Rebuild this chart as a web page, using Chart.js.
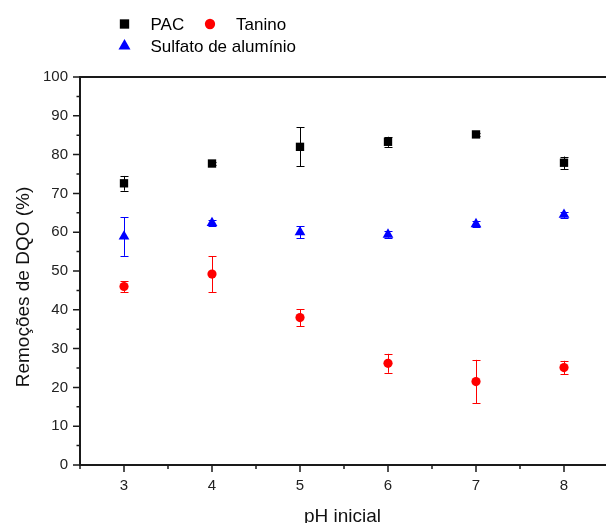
<!DOCTYPE html>
<html>
<head>
<meta charset="utf-8">
<script src="https://cdn.jsdelivr.net/npm/chart.js@4.4.1/dist/chart.umd.min.js"></script>
<style>
    html, body { margin: 0; padding: 0; background: #fff; overflow: hidden; }
    canvas { display: block; }
</style>
</head>
<body>
<canvas id="chart" width="608" height="523"></canvas>
<script>
const phValues = [3, 4, 5, 6, 7, 8];

const pacRemoval = [72.6, 77.7, 82.0, 83.3, 85.2, 77.9];
const pacError = [1.9, 0.3, 5.0, 1.3, 0.3, 1.6];

const taninoRemoval = [46.0, 49.2, 38.0, 26.2, 21.5, 25.1];
const taninoError = [1.4, 4.6, 2.2, 2.45, 5.6, 1.75];

const sulfatoRemoval = [58.9, 62.4, 60.0, 59.4, 62.1, 64.5];
const sulfatoError = [5.0, 0.7, 1.5, 0.8, 0.7, 0.8];

const yTicks = [0, 10, 20, 30, 40, 50, 60, 70, 80, 90, 100];
const xTicks = [3, 4, 5, 6, 7, 8];

const FONT = "'Liberation Sans', Arial, sans-serif";

function toPoints(values) {
    return phValues.map((ph, i) => ({ x: ph, y: values[i] }));
}

function series(label, values, errors, color, pointStyle, radius) {
    return {
        label,
        data: toPoints(values),
        errors,
        pointStyle,
        pointRadius: radius,
        pointHoverRadius: radius,
        pointBackgroundColor: color,
        pointBorderColor: color,
        pointBorderWidth: 0,
        borderColor: color,
        backgroundColor: color,
        showLine: false
    };
}

// error bars, axis ticks, frame top, titles and the two-row legend
const decorPlugin = {
    id: "decor",
    beforeDatasetsDraw(chart) {
        const { ctx, scales: { x, y } } = chart;
        ctx.save();
        ctx.lineWidth = 1;
        chart.data.datasets.forEach((ds) => {
            ctx.strokeStyle = ds.borderColor;
            ds.data.forEach((p, i) => {
                const err = ds.errors[i];
                const px = Math.round(x.getPixelForValue(p.x)) + 0.5;
                const top = y.getPixelForValue(p.y + err);
                const bot = y.getPixelForValue(p.y - err);
                ctx.beginPath();
                ctx.moveTo(px, top);
                ctx.lineTo(px, bot);
                ctx.moveTo(px - 4, Math.round(top) + 0.5);
                ctx.lineTo(px + 4, Math.round(top) + 0.5);
                ctx.moveTo(px - 4, Math.round(bot) + 0.5);
                ctx.lineTo(px + 4, Math.round(bot) + 0.5);
                ctx.stroke();
            });
        });
        ctx.restore();
    },
    afterDraw(chart) {
        const { ctx, chartArea, scales: { x, y } } = chart;
        ctx.save();
        ctx.strokeStyle = "#1a1a1a";

        // top edge of the frame
        ctx.lineWidth = 2;
        ctx.beginPath();
        ctx.moveTo(chartArea.left, chartArea.top);
        ctx.lineTo(chartArea.right, chartArea.top);
        ctx.stroke();

        // outward ticks, major and minor
        ctx.lineWidth = 1.5;
        ctx.beginPath();
        for (let v = 0; v <= 100; v += 5) {
            const py = y.getPixelForValue(v);
            const len = v % 10 === 0 ? 7 : 3.5;
            ctx.moveTo(chartArea.left, py);
            ctx.lineTo(chartArea.left - len, py);
        }
        for (let v = 2.5; v <= 8.5; v += 0.5) {
            const px = x.getPixelForValue(v);
            const len = Number.isInteger(v) ? 7 : 4;
            ctx.moveTo(px, chartArea.bottom);
            ctx.lineTo(px, chartArea.bottom + len);
        }
        ctx.stroke();

        // axis titles
        ctx.fillStyle = "#111";
        ctx.font = `19px ${FONT}`;
        ctx.textAlign = "center";
        ctx.textBaseline = "alphabetic";
        ctx.fillText("pH inicial", 342.5, 521.5);
        ctx.save();
        ctx.translate(28.5, 287);
        ctx.rotate(-Math.PI / 2);
        ctx.fillText("Remoções de DQO (%)", 0, 0);
        ctx.restore();

        // legend
        const slots = [
            { index: 0, mx: 124.5, my: 24, tx: 150.5, ty: 29.5 },
            { index: 1, mx: 210, my: 24, tx: 236, ty: 29.5 },
            { index: 2, mx: 124.5, my: 46, tx: 150.5, ty: 52 }
        ];
        ctx.font = `17px ${FONT}`;
        ctx.textAlign = "left";
        slots.forEach((s) => {
            const ds = chart.data.datasets[s.index];
            ctx.fillStyle = ds.backgroundColor;
            ctx.strokeStyle = ds.borderColor;
            Chart.helpers.drawPoint(ctx, {
                pointStyle: ds.pointStyle,
                radius: ds.pointRadius * 1.12,
                rotation: 0,
                borderWidth: 0
            }, s.mx, s.my);
            ctx.fillStyle = "#000";
            ctx.fillText(ds.label, s.tx, s.ty);
        });
        ctx.restore();
    }
};

new Chart(document.getElementById("chart"), {
    type: "scatter",
    data: {
        datasets: [
            series("PAC", pacRemoval, pacError, "#000000", "rect", 5.9),
            series("Tanino", taninoRemoval, taninoError, "#ff0000", "circle", 4.6),
            series("Sulfato de alumínio", sulfatoRemoval, sulfatoError, "#0000ff", "triangle", 6.2)
        ]
    },
    options: {
        responsive: false,
        animation: false,
        devicePixelRatio: 1,
        layout: {
            autoPadding: false,
            padding: { top: 77, left: 0, right: 0, bottom: 0 }
        },
        plugins: {
            legend: { display: false },
            tooltip: { enabled: false }
        },
        scales: {
            x: {
                type: "linear",
                min: 2.5,
                max: 8.5,
                afterFit: (scale) => {
                    scale.height = 58;
                    scale.paddingLeft = 0;
                    scale.paddingRight = 0;
                },
                afterBuildTicks: (scale) => {
                    scale.ticks = xTicks.map((value) => ({ value }));
                },
                grid: { display: false, drawTicks: false },
                border: { display: true, color: "#1a1a1a", width: 2 },
                ticks: {
                    padding: 12,
                    color: "#222",
                    font: { family: FONT, size: 15 }
                }
            },
            y: {
                min: 0,
                max: 100,
                afterFit: (scale) => {
                    scale.width = 80;
                    scale.paddingTop = 0;
                    scale.paddingBottom = 0;
                },
                afterBuildTicks: (scale) => {
                    scale.ticks = yTicks.map((value) => ({ value }));
                },
                grid: { display: false, drawTicks: false },
                border: { display: true, color: "#1a1a1a", width: 2 },
                ticks: {
                    padding: 12,
                    color: "#222",
                    font: { family: FONT, size: 15 }
                }
            }
        }
    },
    plugins: [decorPlugin]
});
</script>
</body>
</html>
